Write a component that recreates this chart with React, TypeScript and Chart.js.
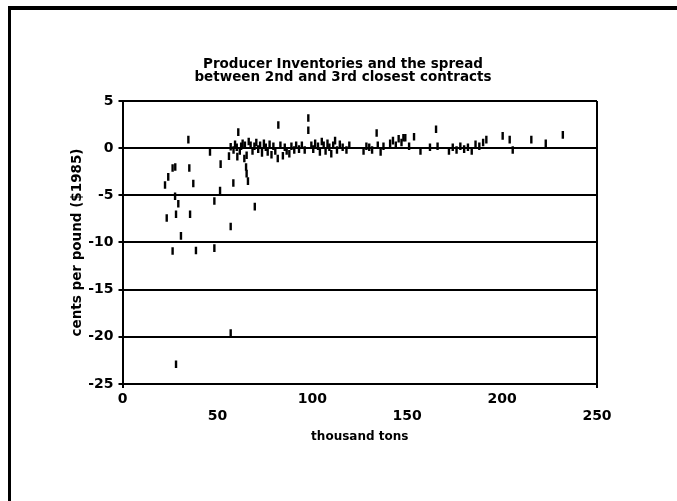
import { useEffect, useRef } from "react";
import { Chart, registerables } from "chart.js";

Chart.register(...registerables);

// Producer inventories (thousand tons)
const inventory = [
  22.4, 23.3, 24.1, 26.4, 26.4, 27.8, 27.7, 28.2, 28.2, 29.4,
  30.8, 34.7, 35.2, 35.6, 37.3, 38.7, 46.1, 48.4, 48.4, 51.4,
  51.7, 56.1, 57.0, 57.0, 57.0, 58.4, 60.2, 60.5, 61.0, 63.3,
  64.2, 65.1, 65.4, 66.1, 65.4, 66.5, 69.7, 82.1, 81.8, 87.9,
  97.9, 97.9,
  58.5, 59.3, 61.8, 62.5, 64.5, 67.5, 68.5, 69.5, 70.5, 71.5,
  72.5, 73.5, 74.5, 75.5, 76.5, 77.5, 78.5, 79.5, 80.5, 83.2,
  84.5, 85.5, 86.5, 89.0, 90.5, 91.5, 93.0, 94.5, 96.0, 99.5,
  100.5, 101.5, 103.0, 104.0, 105.0, 106.0, 107.0, 108.0, 109.0, 110.0,
  111.0, 112.0, 113.0, 114.5, 116.0, 118.0, 119.5,
  127.0, 128.5, 130.0, 131.5, 133.9, 134.5, 136.0, 137.5, 141.0, 142.5,
  144.0, 145.5, 147.0, 148.0, 149.0, 151.0, 153.6, 157.0, 162.0, 165.2,
  166.0, 172.0, 174.0, 176.0, 178.0, 180.0, 182.0, 184.0, 186.0, 188.0,
  190.0, 191.7, 200.3, 204.0, 205.6, 215.4, 223.0, 232.0,
];

// Spread between 2nd and 3rd closest contracts (cents per pound, $1985)
const spread = [
  -3.9, -7.4, -3.05, -2.1, -10.9, -2.0, -5.1, -7.0, -22.9, -5.9,
  -9.3, 0.9, -2.1, -7.0, -3.75, -10.85, -0.4, -5.6, -10.6, -4.5,
  -1.7, -0.85, 0.15, -8.3, -19.6, -3.7, 0.1, -0.9, 1.7, 0.5,
  -1.1, -2.0, -2.7, -3.5, -0.75, 0.7, -6.2, 2.45, -1.1, -0.6,
  3.2, 1.9,
  -0.2, 0.4, -0.3, 0.2, 0.3, 0.3, -0.3, 0.2, 0.6, -0.1,
  0.3, -0.5, 0.5, 0.1, -0.4, 0.4, -0.7, 0.2, -0.3, 0.3,
  -0.8, 0.1, -0.3, 0.2, -0.2, 0.3, -0.1, 0.3, -0.2, 0.3,
  -0.1, 0.5, 0.2, -0.4, 0.7, 0.3, -0.3, 0.5, 0.1, -0.6,
  0.3, 0.8, -0.2, 0.4, 0.1, -0.2, 0.3,
  -0.3, 0.2, 0.1, -0.2, 1.6, 0.3, -0.4, 0.2, 0.5, 0.8,
  0.3, 1.0, 0.6, 1.1, 1.1, 0.2, 1.2, -0.3, 0.1, 2.0,
  0.2, -0.3, 0.1, -0.2, 0.2, -0.1, 0.1, -0.3, 0.4, 0.2,
  0.6, 0.9, 1.3, 0.9, -0.2, 0.9, 0.5, 1.4,
];

const xTicks = [0, 50, 100, 150, 200, 250];
const yTicks = [5, 0, -5, -10, -15, -20, -25];
const titleLines = [
  "Producer Inventories and the spread",
  "between 2nd and 3rd closest contracts",
];
const xTitle = "thousand tons";
const yTitle = "cents per pound ($1985)";

const FAMILY = "'DejaVu Sans', sans-serif";
const BLACK = "#000000";

export default function App() {
  const canvasRef = useRef<HTMLCanvasElement | null>(null);

  useEffect(() => {
    const canvas = canvasRef.current;
    if (!canvas) return;
    const points = inventory.map((x, i) => ({ x, y: spread[i] }));
    const chart = new Chart(canvas, {
      type: "scatter",
      data: {
        datasets: [
          {
            data: points,
            pointStyle: "line",
            rotation: 90,
            radius: 3.8,
            borderWidth: 2.4,
            borderColor: BLACK,
            backgroundColor: BLACK,
            showLine: false,
          },
        ],
      },
      options: {
        animation: false,
        responsive: false,
        devicePixelRatio: 1,
        layout: { padding: { left: 9, right: 0, top: 0, bottom: 0 } },
        plugins: {
          legend: { display: false },
          tooltip: { enabled: false },
          title: {
            display: true,
            text: titleLines,
            color: BLACK,
            font: { family: FAMILY, size: 13.5, weight: "bold", lineHeight: 0.98 },
            padding: { top: 58, bottom: 16.5 },
          },
        },
        scales: {
          x: {
            type: "linear",
            position: "bottom",
            min: 0,
            max: 250,
            afterBuildTicks: (s: any) => {
              s.ticks = xTicks.map((v) => ({ value: v }));
            },
            afterFit: (s: any) => {
              s.height = 117;
            },
            ticks: {
              autoSkip: false,
              maxRotation: 0,
              color: BLACK,
              padding: 3,
              font: { family: FAMILY, size: 14, weight: "bold", lineHeight: 1.2 },
              callback: (v: any, i: number) =>
                i % 2 === 1 ? ["", String(v)] : String(v),
            },
            grid: {
              color: (ctx: any) =>
                ctx.index === 0 || ctx.index === xTicks.length - 1
                  ? BLACK
                  : "rgba(0,0,0,0)",
              lineWidth: 2,
              tickLength: 4,
            },
            border: { display: true, color: BLACK, width: 2 },
            title: {
              display: true,
              text: xTitle,
              color: BLACK,
              font: { family: FAMILY, size: 12, weight: "bold" },
              padding: { top: 0, bottom: 57 },
            },
          },
          y: {
            type: "linear",
            position: "left",
            min: -25,
            max: 5,
            afterBuildTicks: (s: any) => {
              s.ticks = yTicks.map((v) => ({ value: v }));
            },
            afterFit: (s: any) => {
              s.width = 113.5;
            },
            ticks: {
              color: BLACK,
              padding: 5,
              font: { family: FAMILY, size: 14, weight: "bold" },
            },
            grid: { color: BLACK, lineWidth: 2, tickLength: 4 },
            border: { display: true, color: BLACK, width: 2 },
            title: {
              display: true,
              text: yTitle,
              color: BLACK,
              font: { family: FAMILY, size: 13.5, weight: "bold" },
              padding: { top: 60, bottom: 0 },
            },
          },
          yRight: {
            type: "linear",
            position: "right",
            min: 0,
            max: 1,
            grid: { display: false },
            ticks: { display: false },
            border: { display: false },
            afterFit: (s: any) => {
              s.width = 80;
            },
          },
        },
      },
    } as any);
    return () => chart.destroy();
  }, []);

  return (
    <div
      style={{
        position: "absolute",
        left: 0,
        top: 0,
        width: 677,
        height: 501,
        background: "#ffffff",
        overflow: "hidden",
      }}
    >
      <canvas
        ref={canvasRef}
        width={677}
        height={501}
        style={{ display: "block", width: 677, height: 501 }}
      />
      <div
        style={{
          position: "absolute",
          left: 8,
          top: 6,
          width: 669,
          height: 4,
          background: BLACK,
        }}
      />
      <div
        style={{
          position: "absolute",
          left: 8,
          top: 6,
          width: 3,
          height: 495,
          background: BLACK,
        }}
      />
    </div>
  );
}
